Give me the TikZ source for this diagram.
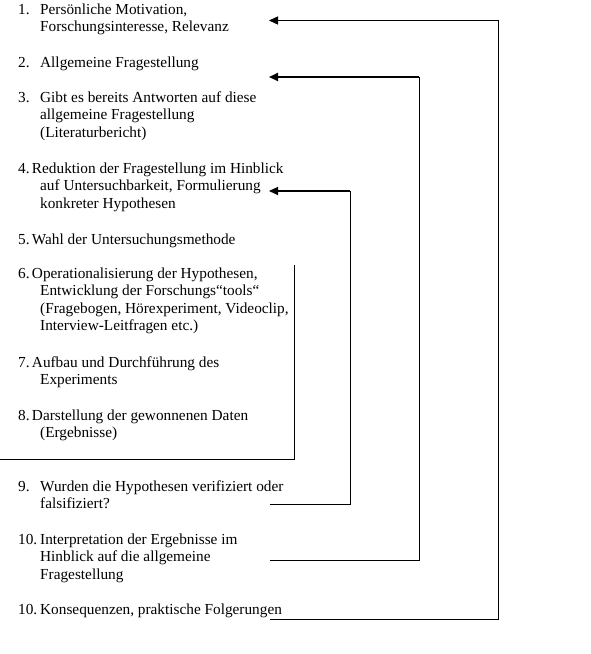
\documentclass[tikz,border=0pt]{standalone}
\usepackage{fontspec}
\setmainfont{Liberation Serif}
\usetikzlibrary{arrows.meta}
\begin{document}
\begin{tikzpicture}[x=1pt,y=-1pt,
  txt/.style={anchor=base west,inner sep=0pt,font=\fontsize{15.3}{17.5}\selectfont},
  conn/.style={line width=1pt,line join=miter},
  arr/.style={-{Triangle[length=9pt,width=8pt]}}]
\useasboundingbox[fill=white] (0,0) rectangle (590,654);
% item 1
\node[txt] (n1) at (18,14) {1.};
\node[txt] (t1a) at (40,14) {Persönliche Motivation,};
\node[txt] (t1b) at (40,31.5) {Forschungsinteresse, Relevanz};
% item 2
\node[txt] (n2) at (18,67) {2.};
\node[txt] (t2a) at (40,67) {Allgemeine Fragestellung};
% item 3
\node[txt] (n3) at (18,102) {3.};
\node[txt] (t3a) at (40,102) {Gibt es bereits Antworten auf diese};
\node[txt] (t3b) at (40,119.5) {allgemeine Fragestellung};
\node[txt] (t3c) at (40,137) {(Literaturbericht)};
% item 4
\node[txt] (t4a) at (18,173) {4.\hspace{0.15em}Reduktion der Fragestellung im Hinblick};
\node[txt] (t4b) at (40,190.5) {auf Untersuchbarkeit, Formulierung};
\node[txt] (t4c) at (40,208) {konkreter Hypothesen};
% item 5
\node[txt] (t5a) at (18,244) {5.\hspace{0.15em}Wahl der Untersuchungsmethode};
% item 6
\node[txt] (t6a) at (18,278) {6.\hspace{0.15em}Operationalisierung der Hypothesen,};
\node[txt] (t6b) at (40,295.5) {Entwicklung der Forschungs“tools“};
\node[txt] (t6c) at (40,313) {(Fragebogen, Hörexperiment, Videoclip,};
\node[txt] (t6d) at (40,330.5) {Interview-Leitfragen etc.)};
% item 7
\node[txt] (t7a) at (18,367) {7.\hspace{0.15em}Aufbau und Durchführung des};
\node[txt] (t7b) at (40,384.5) {Experiments};
% item 8
\node[txt] (t8a) at (18,420) {8.\hspace{0.15em}Darstellung der gewonnenen Daten};
\node[txt] (t8b) at (40,437.5) {(Ergebnisse)};
% item 9
\node[txt] (n9) at (18,491) {9.};
\node[txt] (t9a) at (40,491) {Wurden die Hypothesen verifiziert oder};
\node[txt] (t9b) at (40,508.5) {falsifiziert?};
% item 10
\node[txt] (n10) at (18,544) {10.};
\node[txt] (t10a) at (40,544) {Interpretation der Ergebnisse im};
\node[txt] (t10b) at (40,561.5) {Hinblick auf die allgemeine};
\node[txt] (t10c) at (40,579) {Fragestellung};
% item 10 (second)
\node[txt] (n11) at (18,614) {10.};
\node[txt] (t11a) at (40,614) {Konsequenzen, praktische Folgerungen};
% box around 6-8
\coordinate (b1) at (294,265);
\coordinate (b2) at (294,459);
\coordinate (b3) at (0,459);
\draw[conn] (b1) -- (b2) -- (b3);
% feedback arrow 9 -> 4
\coordinate (s3) at (270,504);
\coordinate (c3) at (350,191);
\coordinate (e3) at (269,191);
\draw[conn] (s3) -| (c3);
\draw[conn,arr,line width=1.3pt] (c3) -- (e3);
% feedback arrow 10 -> 2
\coordinate (s2) at (270,560.5);
\coordinate (c2) at (419,77);
\coordinate (e2) at (269,77);
\draw[conn] (s2) -| (c2);
\draw[conn,arr,line width=2pt] (c2) -- (e2);
% feedback arrow 10' -> 1
\coordinate (s1) at (270,619);
\coordinate (c1) at (498.5,20.5);
\coordinate (e1) at (269,20.5);
\draw[conn] (s1) -| (c1);
\draw[conn,arr,line width=1.4pt] (c1) -- (e1);
\end{tikzpicture}
\end{document}
